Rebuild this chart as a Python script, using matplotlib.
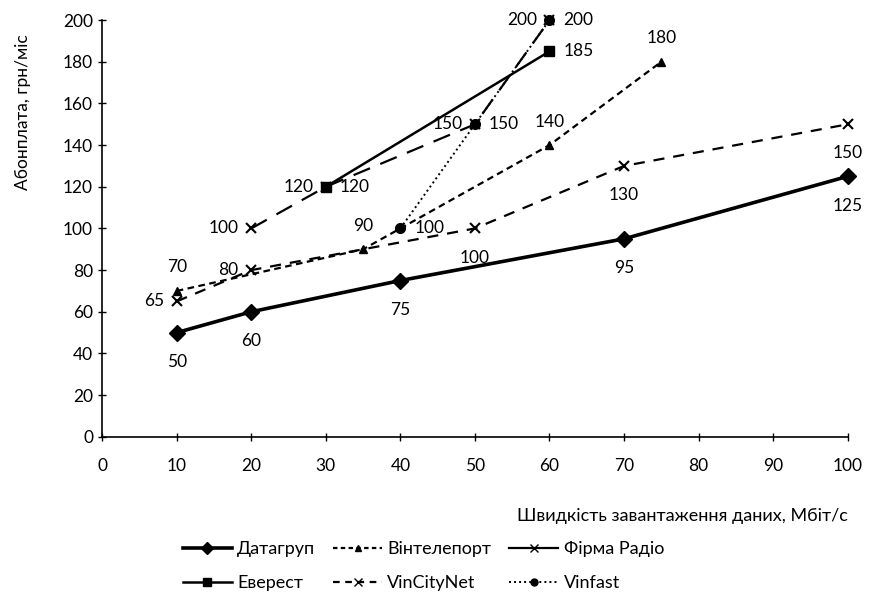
import matplotlib
matplotlib.use("Agg")
import matplotlib.pyplot as plt
from matplotlib.lines import Line2D

plt.rcParams['font.family'] = ['Lato', 'Noto Sans', 'DejaVu Sans']

# data
datagrup_x = [10, 20, 40, 70, 100]
datagrup_y = [50, 60, 75, 95, 125]

vintel_x = [10, 35, 60, 75]
vintel_y = [70, 90, 140, 180]

radio_x = [20, 30, 50, 60]
radio_y = [100, 120, 150, 200]

everest_x = [30, 60]
everest_y = [120, 185]

vincity_x = [10, 20, 50, 70, 100]
vincity_y = [65, 80, 100, 130, 150]

vinfast_x = [40, 50, 60]
vinfast_y = [100, 150, 200]

names = ['Датагруп', 'Вінтелепорт', 'Фірма Радіо', 'Еверест', 'VinCityNet', 'Vinfast']
x_ticks = [0, 10, 20, 30, 40, 50, 60, 70, 80, 90, 100]
y_ticks = [0, 20, 40, 60, 80, 100, 120, 140, 160, 180, 200]

fig = plt.figure(figsize=(8.73, 6.10), dpi=100)
ax = fig.add_axes([0.117, 0.284, 0.854, 0.683])

FS = 12.5

def put_labels(xs, ys, where):
    for i in range(len(xs)):
        w = where[i] if isinstance(where, list) else where
        if w == 'below':
            ax.annotate(str(ys[i]), (xs[i], ys[i]), xytext=(0, -21), textcoords='offset points',
                        ha='center', va='center', fontsize=FS)
        elif w == 'above':
            ax.annotate(str(ys[i]), (xs[i], ys[i]), xytext=(0, 17), textcoords='offset points',
                        ha='center', va='center', fontsize=FS)
        elif w == 'left':
            ax.annotate(str(ys[i]), (xs[i], ys[i]), xytext=(-9, 0), textcoords='offset points',
                        ha='right', va='center', fontsize=FS)
        else:
            ax.annotate(str(ys[i]), (xs[i], ys[i]), xytext=(10, 0), textcoords='offset points',
                        ha='left', va='center', fontsize=FS)

ax.plot(datagrup_x, datagrup_y, color='black', lw=2.6, marker='D', ms=8, zorder=3, clip_on=False)
ax.plot(vintel_x, vintel_y, color='black', lw=1.6, ls=(0, (3, 2)), marker='^', ms=6, zorder=3, clip_on=False)
ax.plot(radio_x, radio_y, color='black', lw=1.6, ls=(0, (8, 5)), marker='x', ms=7, mew=1.5, zorder=3, clip_on=False)
ax.plot(everest_x, everest_y, color='black', lw=1.8, marker='s', ms=7, zorder=3, clip_on=False)
ax.plot(vincity_x, vincity_y, color='black', lw=1.6, ls=(0, (5, 4)), marker='x', ms=7, mew=1.5, zorder=3, clip_on=False)
ax.plot(vinfast_x, vinfast_y, color='black', lw=1.4, ls=(0, (1, 1.6)), marker='o', ms=7, zorder=3, clip_on=False)

put_labels(datagrup_x, datagrup_y, 'below')
put_labels(vintel_x, vintel_y, 'above')
put_labels(radio_x, radio_y, 'left')
put_labels(everest_x, everest_y, 'right')
put_labels(vincity_x, vincity_y, ['left', 'left', 'below', 'below', 'below'])
put_labels(vinfast_x, vinfast_y, 'right')

ax.set_xlim(0, 100)
ax.set_ylim(0, 200)
ax.set_xticks(x_ticks)
ax.set_yticks(y_ticks)
ax.tick_params(axis='both', labelsize=FS, direction='inout', length=6, width=1)
ax.tick_params(axis='x', pad=12)
ax.spines['top'].set_visible(False)
ax.spines['right'].set_visible(False)
ax.spines['left'].set_linewidth(1.2)
ax.spines['bottom'].set_linewidth(1.2)

ax.set_ylabel('Абонплата, грн/міс', fontsize=FS)
ax.yaxis.set_label_coords(-0.095, 0.78)
ax.set_xlabel('Швидкість завантаження даних, Мбіт/с', fontsize=13)
ax.xaxis.set_label_coords(1.0, -0.17)
ax.xaxis.label.set_horizontalalignment('right')

handles = [
    Line2D([], [], color='black', lw=2.6, marker='D', ms=6),
    Line2D([], [], color='black', lw=1.6, ls=(0, (2, 1.5)), marker='^', ms=5),
    Line2D([], [], color='black', lw=1.6, marker='x', ms=6),
    Line2D([], [], color='black', lw=1.8, marker='s', ms=6),
    Line2D([], [], color='black', lw=1.6, ls=(0, (3, 2.5)), marker='x', ms=6),
    Line2D([], [], color='black', lw=1.4, ls=(0, (1, 1.6)), marker='o', ms=5),
]
# order so rows read Датагруп/Вінтелепорт/Фірма Радіо then Еверест/VinCityNet/Vinfast
order = [0, 3, 1, 4, 2, 5]
fig.legend([handles[i] for i in order], [names[i] for i in order], ncol=3,
           loc='center', bbox_to_anchor=(0.485, 0.072), frameon=False, fontsize=13,
           handlelength=2.7, columnspacing=1.0, handletextpad=0.3, labelspacing=1.0)

fig.savefig('out.png', dpi=100)
